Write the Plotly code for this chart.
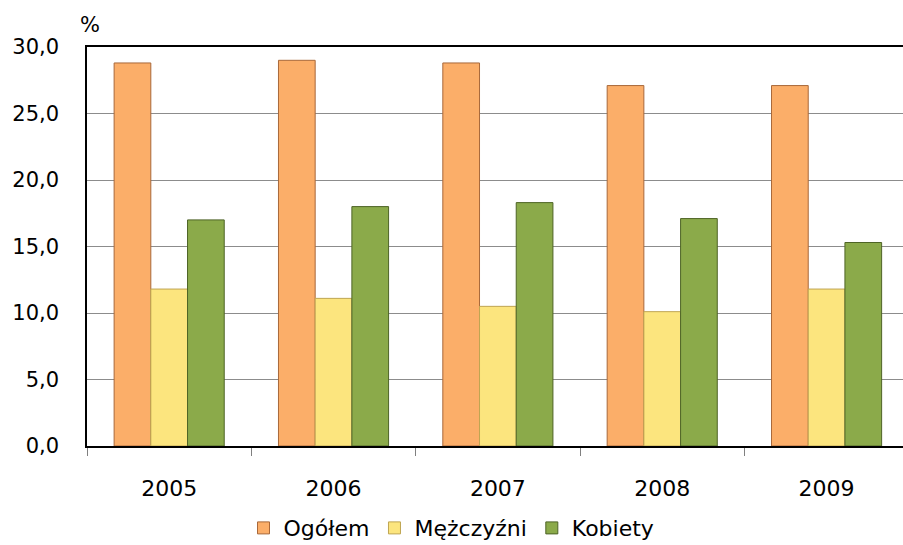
import plotly.graph_objects as go

years = ["2005", "2006", "2007", "2008", "2009"]
ogolem = [28.8, 29.0, 28.8, 27.1, 27.1]
mezczyzni = [11.8, 11.1, 10.5, 10.1, 11.8]
kobiety = [17.0, 18.0, 18.3, 17.1, 15.3]
y_ticks = [0, 5, 10, 15, 20, 25, 30]

series = [
    ("Ogółem", ogolem, "#FBAE69", "#A8683A"),
    ("Mężczyźni", mezczyzni, "#FCE57E", "#BFA552"),
    ("Kobiety", kobiety, "#8BAA4A", "#4E6426"),
]

fig = go.Figure()
for name, vals, col, edge in series:
    fig.add_trace(go.Bar(
        x=years, y=vals, name=name,
        marker=dict(color=col, line=dict(color=edge, width=1)),
    ))

fig.update_layout(
    width=903, height=545,
    barmode="group", bargap=0.33, bargroupgap=0,
    plot_bgcolor="white", paper_bgcolor="white",
    margin=dict(l=87, r=0, t=47, b=99, autoexpand=False),
    separators=", ",
    font=dict(family="DejaVu Sans, Arial, sans-serif", size=21, color="black"),
    legend=dict(
        orientation="h", xref="container", yref="container",
        x=0.5, xanchor="center", y=0.031, yanchor="middle",
        font=dict(size=22), itemwidth=30, traceorder="normal",
    ),
    annotations=[dict(
        text="%", xref="paper", yref="paper", x=0.004, y=1.0,
        yshift=8, xanchor="center", yanchor="bottom", showarrow=False,
        font=dict(size=21),
    )],
)
fig.update_xaxes(
    type="category", range=[-0.5, 4.465],
    showline=True, linecolor="black", linewidth=1.5, mirror=True,
    ticks="outside", tickson="boundaries", ticklen=8, tickcolor="#808080",
    ticklabelstandoff=22, showgrid=False, automargin=False,
    tickfont=dict(size=22),
)
fig.update_yaxes(
    range=[0, 30], tickvals=y_ticks, tickformat=".1f",
    showline=True, linecolor="black", linewidth=1.5,
    showgrid=True, gridcolor="#8C8C8C", gridwidth=1.2,
    ticks="", ticklabelstandoff=22, zeroline=False, automargin=False,
)

fig.write_html("out.html", config={"displayModeBar": False},
               post_script="document.body.style.margin='0';")
